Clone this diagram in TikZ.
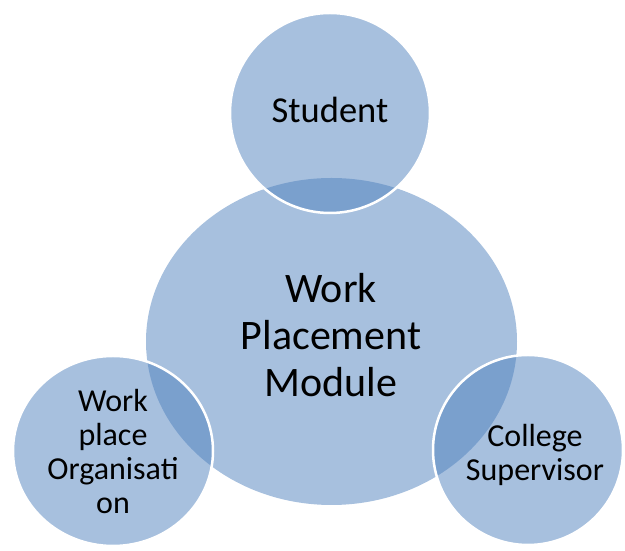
\documentclass[tikz,border=0pt]{standalone}
\usepackage{fontspec}
\setmainfont{Carlito}
\definecolor{accent}{HTML}{4F81BD}
\tikzset{
  hub/.style={fill=accent, fill opacity=0.5},
  spoke/.style={fill=accent, fill opacity=0.5, draw=white, line width=2.5},
  bigtext/.style={align=center, font=\fontsize{42}{47}\selectfont},
  smalltext/.style={align=center, font=\fontsize{32}{34}\selectfont}
}
\begin{document}
\begin{tikzpicture}[x=1pt,y=1pt]
\useasboundingbox (0,0) rectangle (625,551);
% centre circle first, the three others on top
\fill[hub] (331.5,209.5) ellipse [x radius=185.5, y radius=163.5];
\filldraw[spoke] (330,438) circle [radius=100];
\filldraw[spoke] (113,100) ellipse [x radius=100, y radius=95];
\filldraw[spoke] (528,101) circle [radius=95];
% labels
\node[font=\fontsize{36.5}{40}\selectfont] (student) at (330,441) {Student};
\node[bigtext] (module) at (331,216) {Work\\Placement\\Module};
\node[smalltext] (workplace) at (113,99) {Work\\place\\Organisati\\on};
\node[smalltext] (supervisor) at (535,96) {College\\Supervisor};
\end{tikzpicture}
\end{document}
